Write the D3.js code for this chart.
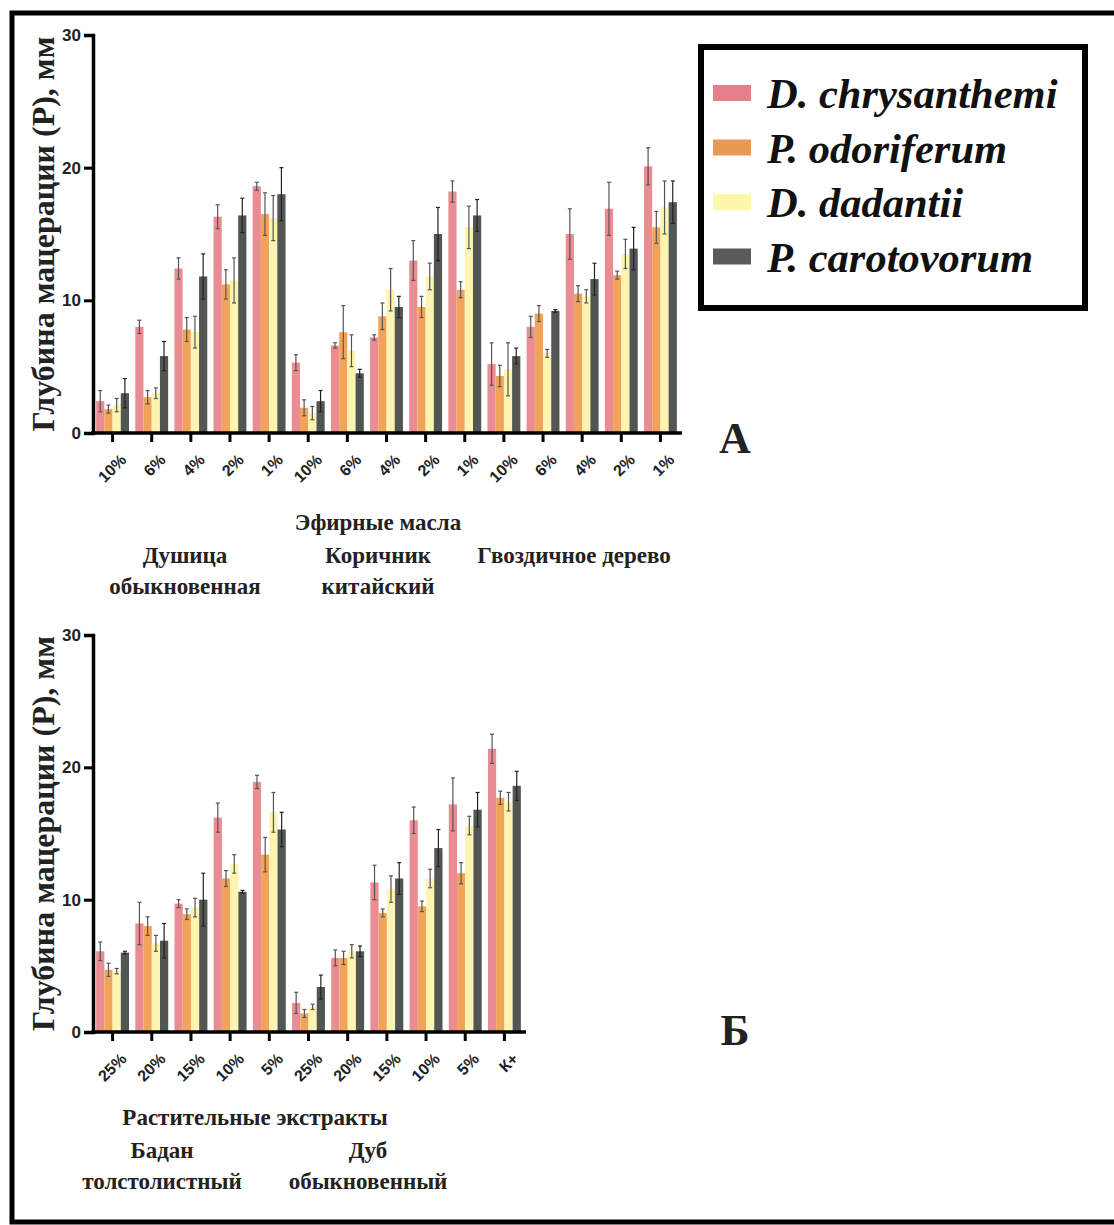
<!DOCTYPE html>
<html><head><meta charset="utf-8">
<script src="https://cdn.jsdelivr.net/npm/d3@7"></script>
<style>body{margin:0;background:#fff}svg{display:block}
.serif{font-family:'Liberation Serif','DejaVu Serif',serif;}
.sans{font-family:'Liberation Sans','DejaVu Sans',sans-serif;}
</style>
</head><body>
<script>
// ---- data ----
const seriesNames = ["D. chrysanthemi", "P. odoriferum", "D. dadantii", "P. carotovorum"];
const seriesColors = ["#ea8d92", "#f1a459", "#fcf4b0", "#525652"];
const legendColors = ["#e57f89", "#e99a52", "#fdf8a8", "#5a5a5a"];

const topCategories = ["10%","6%","4%","2%","1%","10%","6%","4%","2%","1%","10%","6%","4%","2%","1%"];
const topChrys = [2.4, 8.0, 12.4, 16.3, 18.6, 5.3, 6.6, 7.2, 13.0, 18.2, 5.2, 8.0, 15.0, 16.9, 20.1];
const topChrysErr = [0.8, 0.5, 0.8, 0.9, 0.3, 0.6, 0.2, 0.2, 1.5, 0.8, 1.6, 0.8, 1.9, 2.0, 1.4];
const topOdor = [1.8, 2.7, 7.8, 11.2, 16.5, 1.9, 7.6, 8.8, 9.5, 10.8, 4.3, 9.0, 10.5, 11.9, 15.5];
const topOdorErr = [0.3, 0.5, 0.9, 1.1, 1.6, 0.6, 2.0, 1.0, 0.8, 0.6, 0.8, 0.6, 0.6, 0.3, 1.2];
const topDad = [2.1, 3.0, 7.6, 11.5, 16.2, 1.5, 6.2, 10.8, 11.8, 15.5, 4.8, 6.0, 10.3, 13.5, 17.0];
const topDadErr = [0.5, 0.4, 1.2, 1.7, 1.7, 0.5, 1.2, 1.6, 1.0, 1.6, 2.0, 0.3, 0.5, 1.1, 2.0];
const topCarot = [3.0, 5.8, 11.8, 16.4, 18.0, 2.4, 4.5, 9.5, 15.0, 16.4, 5.8, 9.2, 11.6, 13.9, 17.4];
const topCarotErr = [1.1, 1.1, 1.7, 1.3, 2.0, 0.8, 0.3, 0.8, 2.0, 1.2, 0.6, 0.1, 1.2, 1.6, 1.6];

const botCategories = ["25%","20%","15%","10%","5%","25%","20%","15%","10%","5%","К+"];
const botChrys = [6.1, 8.2, 9.7, 16.2, 18.9, 2.2, 5.6, 11.3, 16.0, 17.2, 21.4];
const botChrysErr = [0.7, 1.6, 0.3, 1.1, 0.5, 0.8, 0.6, 1.3, 1.0, 2.0, 1.1];
const botOdor = [4.7, 8.0, 8.9, 11.6, 13.4, 1.4, 5.6, 9.0, 9.5, 12.0, 17.7];
const botOdorErr = [0.5, 0.7, 0.4, 0.6, 1.3, 0.3, 0.5, 0.3, 0.4, 0.8, 0.5];
const botDad = [4.6, 6.7, 9.4, 12.7, 16.6, 1.9, 6.1, 10.8, 11.6, 15.6, 17.4];
const botDadErr = [0.2, 0.6, 0.7, 0.7, 1.5, 0.2, 0.5, 1.0, 0.7, 0.7, 0.7];
const botCarot = [6.0, 6.9, 10.0, 10.6, 15.3, 3.4, 6.1, 11.6, 13.9, 16.8, 18.6];
const botCarotErr = [0.1, 1.3, 2.0, 0.1, 1.3, 0.9, 0.4, 1.2, 1.4, 1.3, 1.1];

const yTicks = [0, 10, 20, 30];
const yTitle = "Глубина мацерации (Р), мм";

const W = 1114, H = 1225;
const svg = d3.select("body").append("svg").attr("width", W).attr("height", H);
svg.append("rect").attr("width", W).attr("height", H).attr("fill", "#fff");

// outer frame (right side runs off the picture)
svg.append("rect").attr("x", 12).attr("y", 13).attr("width", 1120).attr("height", 1209)
  .attr("fill", "none").attr("stroke", "#000").attr("stroke-width", 5);

function drawChart(cfg) {
  const {cats, vals, errs, x0, x1, y0, y1} = cfg;
  const g = svg.append("g");
  const idx = cats.map((c, i) => i);
  const x = d3.scaleBand().domain(idx).range([x0, x1]).paddingInner(0.16).paddingOuter(0.08);
  const xs = d3.scaleBand().domain(d3.range(4)).range([0, x.bandwidth()]);
  const y = d3.scaleLinear().domain([0, 30]).range([y0, y1]);

  vals.forEach((arr, s) => {
    g.selectAll(null).data(arr).enter().append("rect")
      .attr("x", (d, i) => x(i) + xs(s))
      .attr("y", d => y(d))
      .attr("width", xs.bandwidth())
      .attr("height", d => y(0) - y(d))
      .attr("fill", seriesColors[s]);
  });
  vals.forEach((arr, s) => {
    const eg = g.append("g").attr("stroke", s === 3 ? "#222" : "#555").attr("stroke-width", 1.2);
    arr.forEach((d, i) => {
      const cx = x(i) + xs(s) + xs.bandwidth() / 2;
      const e = errs[s][i];
      eg.append("line").attr("x1", cx).attr("x2", cx).attr("y1", y(d - e)).attr("y2", y(d + e));
      eg.append("line").attr("x1", cx - 2).attr("x2", cx + 2).attr("y1", y(d + e)).attr("y2", y(d + e));
      eg.append("line").attr("x1", cx - 2).attr("x2", cx + 2).attr("y1", y(d - e)).attr("y2", y(d - e));
    });
  });

  const ya = g.append("g").attr("transform", `translate(${x0},0)`)
    .call(d3.axisLeft(y).tickValues(yTicks).tickSize(9).tickPadding(3));
  ya.attr("font-family", null);
  ya.select(".domain").attr("stroke-width", 3.5);
  ya.selectAll(".tick line").attr("stroke-width", 3);
  ya.selectAll("text").attr("class", "sans")
    .attr("font-weight", "bold").attr("font-size", 17).attr("fill", "#222");

  const xa = g.append("g").attr("transform", `translate(0,${y0})`)
    .call(d3.axisBottom(x).tickFormat(i => cats[i]).tickSize(9).tickSizeOuter(0).tickPadding(6));
  xa.attr("font-family", null);
  xa.select(".domain").attr("stroke-width", 3.5).attr("d", `M${x0 - 2},0H${x1 + 2}`);
  xa.selectAll(".tick line").attr("stroke-width", 3);
  xa.selectAll("text").attr("class", "sans")
    .attr("font-weight", "bold").attr("font-size", 16).attr("fill", "#222")
    .attr("text-anchor", "end").attr("dy", "0.2em")
    .attr("transform", "translate(2,15) rotate(-45)");

  g.append("text").attr("class", "serif")
    .attr("transform", `translate(${cfg.titleX},${(y0 + y1) / 2}) rotate(-90)`)
    .attr("text-anchor", "middle").attr("dy", "0.35em")
    .attr("font-weight", "bold").attr("font-size", 32).attr("fill", "#222")
    .text(yTitle);
}

drawChart({cats: topCategories,
  vals: [topChrys, topOdor, topDad, topCarot],
  errs: [topChrysErr, topOdorErr, topDadErr, topCarotErr],
  x0: 93, x1: 680, y0: 433, y1: 35, titleX: 43});

drawChart({cats: botCategories,
  vals: [botChrys, botOdor, botDad, botCarot],
  errs: [botChrysErr, botOdorErr, botDadErr, botCarotErr],
  x0: 93, x1: 524, y0: 1032, y1: 635, titleX: 43});

function label(txt, x, y, size) {
  svg.append("text").attr("class", "serif").attr("x", x).attr("y", y).attr("text-anchor", "middle")
    .attr("font-weight", "bold").attr("font-size", size || 23)
    .attr("fill", "#222").text(txt);
}
label("Эфирные масла", 378, 530);
label("Душица", 185, 563);
label("обыкновенная", 185, 594);
label("Коричник", 378, 563);
label("китайский", 378, 594);
label("Гвоздичное дерево", 574, 563);

label("Растительные экстракты", 255, 1125);
label("Бадан", 162, 1158);
label("толстолистный", 162, 1189);
label("Дуб", 368, 1158);
label("обыкновенный", 368, 1189);

label("А", 735, 453, 44);
label("Б", 735, 1045, 44);

const lg = svg.append("g");
lg.append("rect").attr("x", 701).attr("y", 47).attr("width", 384).attr("height", 261)
  .attr("fill", "#fff").attr("stroke", "#000").attr("stroke-width", 6);
seriesNames.forEach((n, i) => {
  const cy = 93 + i * 54.5;
  lg.append("rect").attr("x", 713).attr("y", cy - 8).attr("width", 38).attr("height", 16)
    .attr("fill", legendColors[i]);
  lg.append("text").attr("class", "serif").attr("x", 767).attr("y", cy + 15)
    .attr("font-weight", "bold").attr("font-style", "italic")
    .attr("font-size", 42.5).attr("fill", "#111").text(n);
});
</script>
</body></html>
